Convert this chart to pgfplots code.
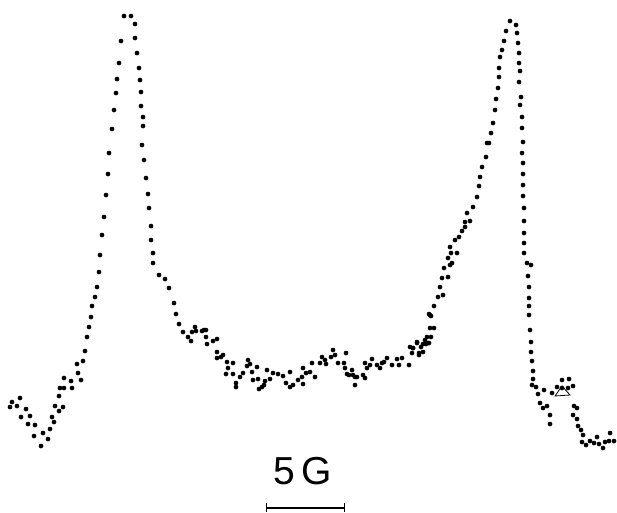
\documentclass[border=0pt]{standalone}
\usepackage{pgfplots}
\pgfplotsset{compat=1.18}
\usepackage{fontspec}
\setmainfont{Liberation Sans}
\begin{document}
\begin{tikzpicture}
\begin{axis}[
  width=617pt, height=512pt, scale only axis,
  xmin=0, xmax=617, ymin=0, ymax=512, y dir=reverse,
  hide axis, clip=false]
\addplot[only marks, mark=*, mark size=2.1pt, black] coordinates {
(10,407)(12,402)(17,406)(20,398)(21,417)(26,409)(28,424)(30,416)(34,436)(35,425)
(41,446)(43,433)(48,439)(50,429)(52,417)(54,422)(55,406)(59,411)(59,396)(60,388)
(63,407)(64,388)(64,378)(71,381)(72,388)(77,364)(78,373)(81,380)(83,361)(85,351)
(87,337)(89,327)(91,317)(92,306)(95,297)(97,287)(99,272)(100,255)(102,235)(104,217)
(106,195)(108,174)(109,153)(112,129)(114,110)(116,93)(117,79)(119,63)(121,41)(124,16)
(131,16)(135,24)(135,38)(137,53)(139,68)(140,80)(141,92)(141,106)(143,117)(143,126)
(142,145)(144,160)(146,178)(148,194)(149,208)(151,226)(151,240)(153,253)(153,263)(159,275)
(165,279)(169,288)(174,303)(176,314)(179,324)(183,332)(188,337)(191,341)(192,332)(195,327)
(196,331)(202,331)(206,330)(206,337)(207,344)
(204,330)(213,341)(217,339)(217,352)(217,358)(221,357)(223,355)(227,362)(233,363)
(228,368)(226,374)(233,374)(236,383)(236,387)(240,377)(243,373)(248,360)(250,364)(247,366)
(252,372)(253,380)(257,367)(258,379)(262,387)(259,389)(265,381)(264,385)(267,370)(270,379)
(273,373)(278,374)(283,376)(290,372)(286,383)(290,387)(293,385)(298,380)(302,377)(303,384)
(303,368)(306,373)(310,372)(312,363)(315,377)(320,363)(322,357)(325,360)(326,364)(331,357)
(333,350)(335,355)(338,363)(344,363)(346,353)(345,368)(347,374)(349,375)(352,370)(353,375)
(355,377)(355,385)(357,377)(363,375)(365,378)(365,363)(367,368)(370,365)(372,359)(377,365)
(380,368)(382,363)(384,362)(387,358)(392,365)(397,359)(399,365)(402,358)(409,365)(412,353)
(413,348)(417,342)(419,355)(421,347)(423,352)(423,344)(427,337)(428,343)(430,328)(431,316)
(429,314)(434,306)
(410,347)(413,348)(417,343)(419,353)(425,340)(426,344)(429,343)(431,337)(434,328)
(430,315)(438,297)(440,287)(443,295)(442,278)(448,277)(444,268)(450,265)(452,263)(448,258)
(451,253)(457,253)(450,247)(455,240)(459,237)(462,231)(465,227)(465,222)(470,221)(467,213)
(473,207)(477,197)(479,186)(480,177)(482,167)(486,157)(487,143)(489,143)(491,133)(493,123)
(495,110)(496,99)(498,88)(499,77)(499,68)(500,57)(502,50)(504,41)(506,31)(510,21)
(516,25)(517,33)(518,43)(519,53)(519,63)(520,71)(519,82)(521,97)(520,105)(522,117)
(522,128)(523,142)(522,153)(523,163)(523,174)(523,185)(523,196)(524,208)(524,221)(524,233)
(524,243)(524,253)(527,263)(531,265)(528,276)(529,287)(529,298)(529,306)(529,315)(530,330)
(531,342)(531,352)(532,361)(533,371)(533,379)(532,385)(536,387)(538,394)(544,390)(540,403)
(543,408)(547,406)(550,415)(550,424)(552,393)(557,387)(562,388)(568,388)(562,380)(569,379)
(573,386)(574,406)(577,408)(573,415)(577,419)(578,426)(581,430)(583,435)(582,442)
(586,445)(590,441)(594,443)(597,437)(599,444)(603,448)(605,442)(609,441)(610,433)(614,441)
};
\draw[black, thick] (axis cs:555,396) -- (axis cs:562,386) -- (axis cs:570,395) -- cycle;
\node[font=\fontsize{39}{39}\selectfont, inner sep=0pt] at (axis cs:303,471) {5\,G};
\draw[black, line width=1.6pt] (axis cs:266,508) -- (axis cs:344,508);
\draw[black, line width=1pt] (axis cs:266,503) -- (axis cs:266,512);
\draw[black, line width=1pt] (axis cs:344,503) -- (axis cs:344,512);
\path (rel axis cs:0,0) (rel axis cs:1,1);
\end{axis}
\end{tikzpicture}
\end{document}
